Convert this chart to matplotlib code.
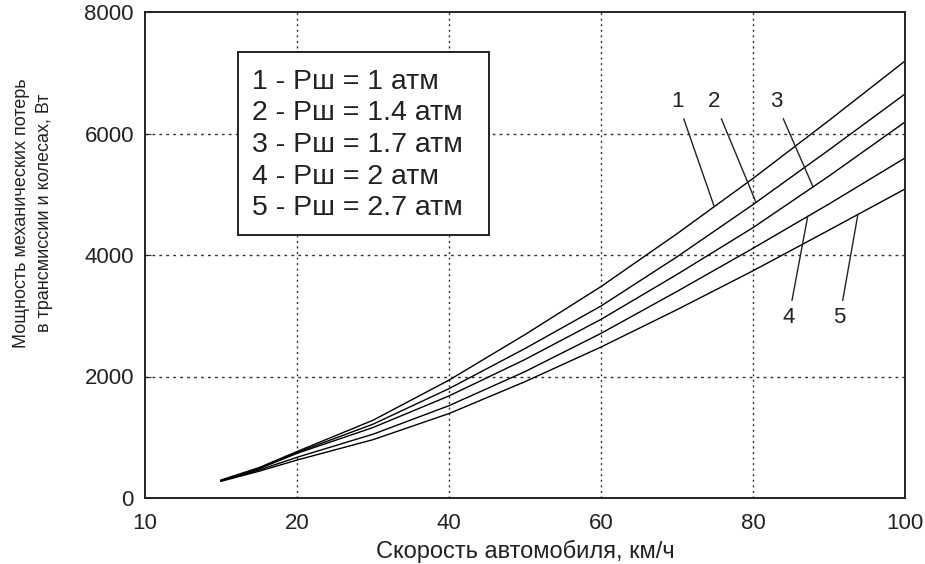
import numpy as np
import matplotlib
matplotlib.use("Agg")
import matplotlib.pyplot as plt
from matplotlib.patches import Rectangle

plt.rcParams['font.family'] = ['Liberation Sans', 'DejaVu Sans']

# speed, km/h
speed = [10, 15, 20, 30, 40, 50, 60, 70, 80, 90, 100]

# mechanical losses, W, for each tyre pressure
loss_1 = [295, 500, 765, 1280, 1940, 2690, 3480, 4350, 5260, 6215, 7193]
loss_2 = [290, 490, 750, 1215, 1800, 2460, 3160, 3970, 4830, 5730, 6650]
loss_3 = [285, 480, 735, 1160, 1680, 2280, 2940, 3680, 4450, 5300, 6189]
loss_4 = [280, 460, 670, 1050, 1520, 2080, 2710, 3400, 4110, 4840, 5597]
loss_5 = [275, 440, 625, 960, 1390, 1915, 2485, 3100, 3740, 4410, 5086]

pressures = ["1", "1.4", "1.7", "2", "2.7"]
x_ticks = [0, 20, 40, 60, 80, 100]
x_tick_labels = ["10", "20", "40", "60", "80", "100"]
y_ticks = [0, 2000, 4000, 6000, 8000]

curves = [loss_1, loss_2, loss_3, loss_4, loss_5]

fig = plt.figure(figsize=(9.25, 5.64), dpi=100)
ax = fig.add_axes([145 / 925, 66 / 564, 760 / 925, 486 / 564])

for ys in curves:
    ax.plot(speed, ys, color='black', lw=1.0)

ax.set_xlim(0, 100)
ax.set_ylim(0, 8000)
ax.set_xticks(x_ticks)
ax.set_xticklabels(x_tick_labels)
ax.set_yticks(y_ticks)
ax.tick_params(direction='in', length=4, labelsize=16, pad=8, colors='#222222')
ax.tick_params(axis='x', length=0, pad=11)

for s in ax.spines.values():
    s.set_linewidth(1.4)
    s.set_color('#222222')

# dotted grid
for gx in x_ticks[1:-1]:
    ax.axvline(gx, color='#333333', lw=1.0, ls=(0, (1.5, 2.5)), zorder=0)
for gy in y_ticks[1:-1]:
    ax.axhline(gy, color='#333333', lw=1.0, ls=(0, (2, 3)), zorder=0)

# legend box
ax.add_patch(Rectangle((0.1224, 0.5412), 0.3302, 0.3765, transform=ax.transAxes,
                       facecolor='white', edgecolor='#222222', lw=1.4, zorder=3))
legend_y = [0.856, 0.792, 0.726, 0.660, 0.597]
for i, (p, ly) in enumerate(zip(pressures, legend_y)):
    ax.text(0.1408, ly, f"{i + 1} - Рш = {p} атм", transform=ax.transAxes,
            fontsize=20.5, va='center', ha='left', color='#222222', zorder=4)

# curve numbers with leader lines
label_pos = [(70.1, 6525), (74.9, 6525), (83.0, 6525), (84.7, 2967), (91.4, 2967)]
leader_x = [74.9, 80.4, 87.9, 87.2, 93.8]
for i, ((tx, ty), lx) in enumerate(zip(label_pos, leader_x)):
    ly = np.interp(lx, speed, curves[i])
    ax.annotate(str(i + 1), xy=(lx, ly), xytext=(tx, ty), fontsize=16,
                ha='center', va='center', color='#222222',
                arrowprops=dict(arrowstyle='-', color='#222222', lw=1.0,
                                shrinkA=3, shrinkB=0))

ax.set_xlabel("Скорость автомобиля, км/ч", fontsize=17, color='#222222', labelpad=4)
fig.text(33 / 925, 1 - 213 / 564,
         "Мощность механических потерь\nв трансмиссии и колесах, Вт",
         rotation=90, ha='center', va='center', multialignment='center',
         fontsize=13, color='#222222', linespacing=1.45)

fig.savefig("out.png", dpi=100)
